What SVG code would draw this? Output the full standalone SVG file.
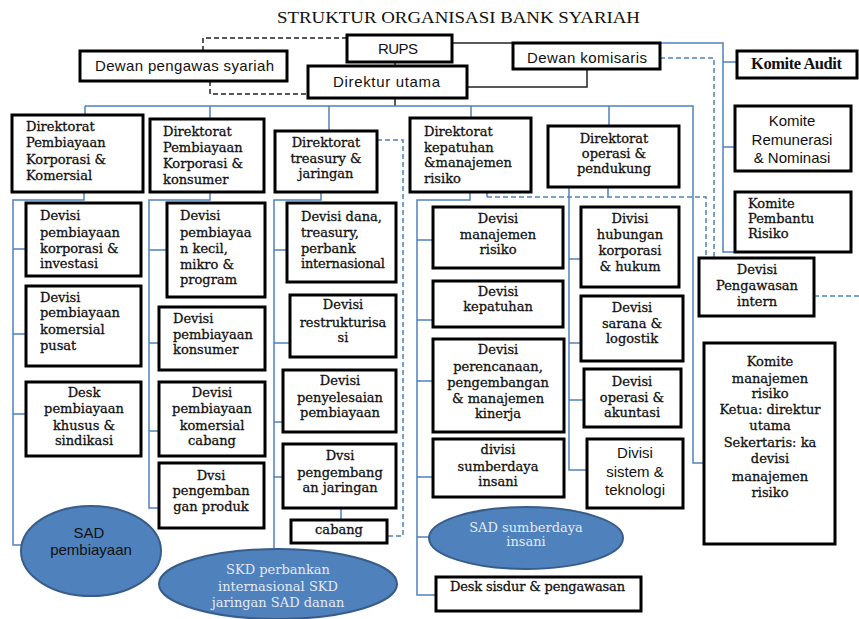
<svg xmlns="http://www.w3.org/2000/svg" width="859" height="619" viewBox="0 0 859 619">
<style>
.box{fill:#fff;stroke:#000;stroke-width:3}
.ell{fill:#4f81bd;stroke:#385d8a;stroke-width:2}
.bl{fill:none;stroke:#4f81bd;stroke-width:1.5}
.bld{fill:none;stroke:#4f81bd;stroke-width:1.5;stroke-dasharray:5 3}
.k{fill:none;stroke:#222;stroke-width:1.5}
.kd{fill:none;stroke:#222;stroke-width:1.5;stroke-dasharray:5 3}
.s{font-family:"DejaVu Serif","Liberation Serif",serif;font-size:13px;fill:#111;stroke:#111;stroke-width:0.3}
.c{text-anchor:middle}
.sa{font-family:"Liberation Sans",Arial,sans-serif;font-size:15px;fill:#111}
.t{font-family:"Liberation Serif","Times New Roman",serif;font-size:16.5px;fill:#111}
.w{font-family:"DejaVu Serif","Liberation Serif",serif;font-size:13px;fill:#e3eaf4}
</style>
<rect width="859" height="619" fill="#fff"/>
<text class="t" x="277" y="23" textLength="363" lengthAdjust="spacingAndGlyphs">STRUKTUR ORGANISASI BANK SYARIAH</text>

<g id="connectors">
<path class="kd" d="M203,51 V38 H347"/>
<path class="kd" d="M210,81 V94 H308"/>
<path class="k" d="M452,43 H513"/>
<path class="k" d="M395,57 V66"/>
<path class="k" d="M587,69 V87 H467"/>
<path class="k" d="M395,98 V106"/>
<path class="bl" d="M660,43 H723 V252 H735 M723,147 H735 M723,62 H737"/>
<path class="bld" d="M660,58 H714 V258"/>
<path class="bld" d="M814,296 H859"/>
<path class="bl" d="M85,106 H693 V463 H705 M85,106 V115 M210,106 V119 M329,106 V131 M471,106 V118 M609,106 V126"/>
<path class="bl" d="M84,190 V200 H13 V545 H23 M13,249 H26 M13,334 H26 M13,414 H26"/>
<path class="bl" d="M210,190 V200 H149 V508 H159 M149,250 H167 M149,343 H159 M149,431 H159"/>
<path class="bl" d="M321,190 V200 H274 V549 M274,250 H287 M274,343 H290 M274,422 H283 M274,477 H283 M341,508 V520"/>
<path class="bld" d="M377,140 H403 V536 H387"/>
<path class="bl" d="M470,190 V200 H417 V595 H436 M417,240 H433 M417,320 H433 M417,381 H433 M417,477 H433 M417,537 H430"/>
<path class="bl" d="M487,190 V197 M608,186 V197"/>
<path class="bld" d="M487,197 H706 V258"/>
<path class="bl" d="M569,163 V470 H587 M569,259 H581 M569,343 H581 M569,400 H584"/>
</g>

<g id="rups"><rect class="box" x="347" y="35" width="105" height="27"/><text class="sa" x="398" y="54" text-anchor="middle" textLength="40">RUPS</text></g>
<g id="dewan-pengawas"><rect class="box" x="80" y="51" width="207" height="30"/><text class="sa" x="95" y="71" textLength="179">Dewan pengawas syariah</text></g>
<g id="direktur-utama"><rect class="box" x="308" y="66" width="159" height="32"/><text class="sa" x="333" y="87" textLength="107">Direktur utama</text></g>
<g id="dewan-komisaris"><rect class="box" x="513" y="43" width="147" height="26"/><text class="sa" x="527" y="63" textLength="120">Dewan komisaris</text></g>
<g id="komite-audit"><rect class="box" x="737" y="51" width="120" height="27"/><text class="t" x="751" y="69" font-weight="bold" font-size="14.5" textLength="91">Komite Audit</text></g>

<g id="dir1"><rect class="box" x="12" y="115" width="131" height="77"/><text class="s" x="26"><tspan x="26" y="131">Direktorat</tspan><tspan x="26" y="147">Pembiayaan</tspan><tspan x="26" y="164">Korporasi &amp;</tspan><tspan x="26" y="180">Komersial</tspan></text></g>
<g id="dir2"><rect class="box" x="150" y="119" width="114" height="73"/><text class="s"><tspan x="163" y="136">Direktorat</tspan><tspan x="163" y="152">Pembiayaan</tspan><tspan x="163" y="168">Korporasi &amp;</tspan><tspan x="163" y="184">konsumer</tspan></text></g>
<g id="dir3"><rect class="box" x="275" y="131" width="102" height="61"/><text class="s c"><tspan x="326" y="147">Direktorat</tspan><tspan x="326" y="163">treasury &amp;</tspan><tspan x="326" y="178">jaringan</tspan></text></g>
<g id="dir4"><rect class="box" x="410" y="118" width="121" height="74"/><text class="s"><tspan x="424" y="136">Direktorat</tspan><tspan x="424" y="152">kepatuhan</tspan><tspan x="424" y="167">&amp;manajemen</tspan><tspan x="424" y="183">risiko</tspan></text></g>
<g id="dir5"><rect class="box" x="548" y="126" width="131" height="61"/><text class="s c"><tspan x="614" y="143">Direktorat</tspan><tspan x="614" y="158">operasi &amp;</tspan><tspan x="614" y="173">pendukung</tspan></text></g>

<g id="komite-remunerasi"><rect class="box" x="735" y="106" width="116" height="65"/><text class="sa c" font-size="15.5"><tspan x="792" y="126">Komite</tspan><tspan x="792" y="145">Remunerasi</tspan><tspan x="792" y="163">&amp; Nominasi</tspan></text></g>
<g id="komite-pembantu"><rect class="box" x="735" y="192" width="116" height="60"/><text class="s"><tspan x="748" y="208">Komite</tspan><tspan x="748" y="223">Pembantu</tspan><tspan x="748" y="238">Risiko</tspan></text></g>
<g id="pengawasan-intern"><rect class="box" x="699" y="258" width="115" height="58"/><text class="s c"><tspan x="757" y="274">Devisi</tspan><tspan x="757" y="290">Pengawasan</tspan><tspan x="757" y="306">intern</tspan></text></g>
<g id="komite-manajemen"><rect class="box" x="704" y="343" width="131" height="201"/><text class="s c"><tspan x="770" y="366">Komite</tspan><tspan x="770" y="383">manajemen</tspan><tspan x="770" y="398">risiko</tspan><tspan x="770" y="414">Ketua: direktur</tspan><tspan x="770" y="430">utama</tspan><tspan x="770" y="447">Sekertaris: ka</tspan><tspan x="770" y="463">devisi</tspan><tspan x="770" y="481">manajemen</tspan><tspan x="770" y="497">risiko</tspan></text></g>

<g id="c1-korporasi"><rect class="box" x="26" y="203" width="115" height="73"/><text class="s"><tspan x="40" y="220">Devisi</tspan><tspan x="40" y="237">pembiayaan</tspan><tspan x="40" y="253">korporasi &amp;</tspan><tspan x="40" y="268">investasi</tspan></text></g>
<g id="c1-komersial"><rect class="box" x="26" y="286" width="115" height="80"/><text class="s"><tspan x="40" y="302">Devisi</tspan><tspan x="40" y="317">pembiayaan</tspan><tspan x="40" y="334">komersial</tspan><tspan x="40" y="350">pusat</tspan></text></g>
<g id="c1-desk"><rect class="box" x="26" y="382" width="115" height="74"/><text class="s c"><tspan x="84" y="397">Desk</tspan><tspan x="84" y="413">pembiayaan</tspan><tspan x="84" y="430">khusus &amp;</tspan><tspan x="84" y="445">sindikasi</tspan></text></g>
<g id="sad-pembiayaan"><ellipse class="ell" cx="91" cy="551" rx="70" ry="45"/><text class="sa c" font-size="13" fill="#1f2d4a"><tspan x="89" y="538">SAD</tspan><tspan x="91" y="555">pembiayaan</tspan></text></g>

<g id="c2-kecil"><rect class="box" x="167" y="203" width="98" height="94"/><text class="s"><tspan x="180" y="220">Devisi</tspan><tspan x="180" y="237">pembiayaa</tspan><tspan x="180" y="253">n kecil,</tspan><tspan x="180" y="269">mikro &amp;</tspan><tspan x="180" y="284">program</tspan></text></g>
<g id="c2-konsumer"><rect class="box" x="159" y="307" width="106" height="63"/><text class="s"><tspan x="173" y="323">Devisi</tspan><tspan x="173" y="339">pembiayaan</tspan><tspan x="173" y="354">konsumer</tspan></text></g>
<g id="c2-cabang"><rect class="box" x="159" y="382" width="106" height="74"/><text class="s c"><tspan x="212" y="397">Devisi</tspan><tspan x="212" y="413">pembiayaan</tspan><tspan x="212" y="430">komersial</tspan><tspan x="212" y="445">cabang</tspan></text></g>
<g id="c2-produk"><rect class="box" x="159" y="463" width="105" height="65"/><text class="s c"><tspan x="211" y="480">Dvsi</tspan><tspan x="211" y="495">pengemban</tspan><tspan x="211" y="511">gan produk</tspan></text></g>

<g id="c3-dana"><rect class="box" x="287" y="203" width="109" height="79"/><text class="s"><tspan x="301" y="221">Devisi dana,</tspan><tspan x="301" y="237">treasury,</tspan><tspan x="301" y="253">perbank</tspan><tspan x="301" y="268" textLength="84">internasional</tspan></text></g>
<g id="c3-restrukturisasi"><rect class="box" x="290" y="295" width="106" height="62"/><text class="s c"><tspan x="343" y="309">Devisi</tspan><tspan x="343" y="327">restrukturisa</tspan><tspan x="343" y="342">si</tspan></text></g>
<g id="c3-penyelesaian"><rect class="box" x="283" y="370" width="113" height="62"/><text class="s c"><tspan x="340" y="385">Devisi</tspan><tspan x="340" y="402">penyelesaian</tspan><tspan x="340" y="417">pembiayaan</tspan></text></g>
<g id="c3-jaringan"><rect class="box" x="283" y="444" width="113" height="64"/><text class="s c"><tspan x="340" y="460">Dvsi</tspan><tspan x="340" y="477">pengembang</tspan><tspan x="340" y="492">an jaringan</tspan></text></g>
<g id="c3-cabang"><rect class="box" x="291" y="520" width="96" height="23"/><text class="s c" x="339" y="534">cabang</text></g>
<g id="skd"><ellipse class="ell" cx="278" cy="584" rx="119" ry="35"/><text class="w c" font-size="13.5"><tspan x="278" y="574">SKD perbankan</tspan><tspan x="278" y="591">internasional SKD</tspan><tspan x="278" y="607">jaringan SAD danan</tspan></text></g>

<g id="c4-manajemen-risiko"><rect class="box" x="433" y="207" width="130" height="61"/><text class="s c"><tspan x="498" y="223">Devisi</tspan><tspan x="498" y="239">manajemen</tspan><tspan x="498" y="254">risiko</tspan></text></g>
<g id="c4-kepatuhan"><rect class="box" x="433" y="281" width="130" height="46"/><text class="s c"><tspan x="498" y="296">Devisi</tspan><tspan x="498" y="311">kepatuhan</tspan></text></g>
<g id="c4-perencanaan"><rect class="box" x="433" y="339" width="131" height="93"/><text class="s c"><tspan x="498" y="354">Devisi</tspan><tspan x="498" y="371">perencanaan,</tspan><tspan x="498" y="387">pengembangan</tspan><tspan x="498" y="403">&amp; manajemen</tspan><tspan x="498" y="418">kinerja</tspan></text></g>
<g id="c4-sdi"><rect class="box" x="433" y="439" width="131" height="58"/><text class="s c"><tspan x="498" y="454">divisi</tspan><tspan x="498" y="471">sumberdaya</tspan><tspan x="498" y="486">insani</tspan></text></g>
<g id="sad-sdi"><ellipse class="ell" cx="526" cy="538" rx="97" ry="31"/><text class="w c" font-size="12.5"><tspan x="526" y="532">SAD sumberdaya</tspan><tspan x="526" y="546">insani</tspan></text></g>
<g id="desk-sisdur"><rect class="box" x="436" y="577" width="205" height="34"/><text class="s" x="450" y="591" textLength="175">Desk sisdur &amp; pengawasan</text></g>

<g id="c5-hubungan"><rect class="box" x="581" y="207" width="98" height="80"/><text class="s c"><tspan x="630" y="223">Divisi</tspan><tspan x="630" y="239">hubungan</tspan><tspan x="630" y="255">korporasi</tspan><tspan x="630" y="271">&amp; hukum</tspan></text></g>
<g id="c5-sarana"><rect class="box" x="581" y="296" width="102" height="65"/><text class="s c"><tspan x="632" y="312">Devisi</tspan><tspan x="632" y="328">sarana &amp;</tspan><tspan x="632" y="343">logostik</tspan></text></g>
<g id="c5-operasi"><rect class="box" x="584" y="369" width="97" height="58"/><text class="s c"><tspan x="632" y="386">Devisi</tspan><tspan x="632" y="402">operasi &amp;</tspan><tspan x="632" y="417">akuntasi</tspan></text></g>
<g id="c5-sistem"><rect class="box" x="587" y="439" width="96" height="69"/><text class="sa c" font-size="15.5"><tspan x="635" y="458">Divisi</tspan><tspan x="635" y="477">sistem &amp;</tspan><tspan x="635" y="495">teknologi</tspan></text></g>
</svg>
